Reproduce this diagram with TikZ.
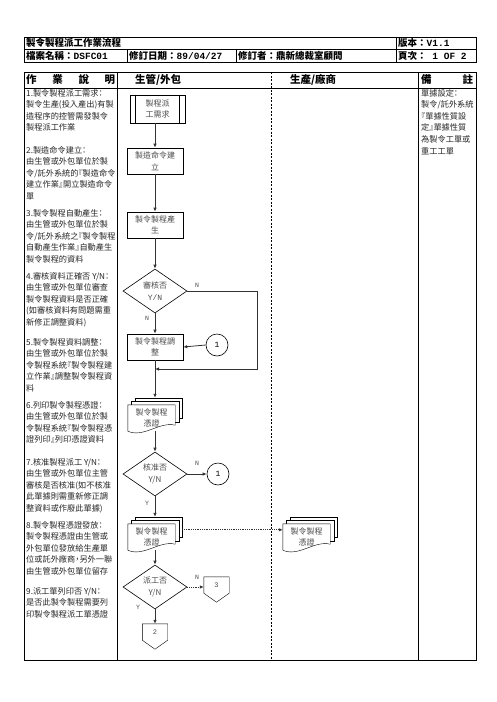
\documentclass[tikz,border=0pt]{standalone}
\usepackage{fontspec}
\setmainfont{Noto Sans CJK TC}
\setmonofont{Liberation Mono}
\newfontfamily\descfont{Noto Sans CJK TC}[RawFeature=+halt]
\usetikzlibrary{shapes.geometric,arrows.meta,calc,backgrounds}

% stacked documents behind a docnode
\newcommand\docstack[1]{%
  \coordinate (#1-top) at ($(#1.north)+(3.5,-7)$);
  \coordinate (#1-bot) at ($(#1.south)+(3.5,0)$);
  \coordinate (#1-right) at ($(#1.north east)+(7,6)$);
  \begin{scope}[on background layer]
    \foreach \s in {7,3.5}
      \draw[fill=white] ($(#1.north west)+(\s,-\s)$) rectangle ($(#1.south east)+(\s,-6-\s)$);
    \draw[fill=white] (#1.north west) -- (#1.south west)
      .. controls ($(#1.south west)+(16,7)$) and ($(#1.south east)+(-16,-10)$) .. ($(#1.south east)+(0,-6)$)
      -- (#1.north east) -- cycle;
  \end{scope}}
% off page connector
\newcommand\offpage[1]{%
  \draw (#1.north west) -- (#1.south west) -- ($(#1.south)+(0,9)$) -- (#1.south east) -- (#1.north east) -- cycle;}

\begin{document}
\begin{tikzpicture}[x=1pt,y=-1pt,
    tbl/.style={line width=0.8pt},
    hdr/.style={anchor=west,inner sep=0,font=\fontsize{9.5}{11}\selectfont\bfseries},
    colhdr/.style={anchor=west,inner sep=0,font=\fontsize{10.5}{12}\selectfont\bfseries},
    desc/.style={anchor=north west,inner sep=0,align=left,text=black!85,font=\descfont\fontsize{8.2}{11.6}\selectfont},
    flowbox/.style={draw,line width=0.6pt,minimum width=56,minimum height=26,inner sep=0,align=center,text=black!70,font=\fontsize{8}{11.5}\selectfont},
    procbox/.style={flowbox,minimum width=55,minimum height=28},
    decision/.style={diamond,draw,line width=0.6pt,aspect=1.45,minimum width=64,minimum height=44,inner sep=0,align=center,text=black!70,font=\fontsize{8}{11.5}\selectfont},
    docnode/.style={minimum width=47,minimum height=26,inner sep=0,align=center,text=black!70,font=\fontsize{8}{11.5}\selectfont},
    onpage/.style={circle,draw,line width=0.6pt,minimum size=22,inner sep=0,font=\ttfamily\fontsize{8}{8}\selectfont},
    offpage/.style={minimum width=25,minimum height=16,inner sep=0,text=black!70,font=\ttfamily\fontsize{7}{7}\selectfont},
    yn/.style={inner sep=0,text=black!70,font=\ttfamily\fontsize{6.5}{6.5}\selectfont},
    line/.style={draw=black!80,line width=0.8pt},
    flow/.style={line,-{Latex[length=4pt,width=3.5pt]}},
    dotflow/.style={flow,densely dotted}]
    \useasboundingbox (0,0) rectangle (496,702);

    % title block
    \draw[tbl] (24,37) rectangle (476,62);
    \draw[tbl] (24,49) -- (476,49);
    \draw[tbl] (396,37) -- (396,62);
    \draw[tbl] (127,49) -- (127,62);
    \draw[tbl] (236,49) -- (236,62);
    \node[hdr] (title) at (26,43) {製令製程派工作業流程};
    \node[hdr] (ver) at (398,43) {版本：{\ttfamily V1.1}};
    \node[hdr] (file) at (26,55.5) {檔案名稱：{\ttfamily DSFC01}};
    \node[hdr] (date) at (129,55.5) {修訂日期：{\ttfamily 89/04/27}};
    \node[hdr] (rev) at (238,55.5) {修訂者：鼎新總裁室顧問};
    \node[hdr] (page) at (398,55.5) {頁次：{\ttfamily\ 1 OF 2}};

    % main table
    \draw[tbl] (24,72) rectangle (476,660);
    \draw[tbl] (24,88) -- (476,88);
    \draw[tbl] (117,72) -- (117,660);
    \draw[tbl] (418,72) -- (418,660);
    \draw[line width=0.6pt,dash pattern=on 2pt off 1.5pt] (271,72) -- (271,660);
    \node[colhdr] (hd1) at (26,80) {\makebox[89pt][s]{作\hfill 業\hfill 說\hfill 明}};
    \node[colhdr] (hd2) at (135,80) {生管/外包};
    \node[colhdr] (hd3) at (290,80) {生產/廠商};
    \node[colhdr] (hd4) at (421,80) {\makebox[52pt][s]{備\hfill 註}};

    % steps
    \node[desc] (s1) at (26,89) {1.製令製程派工需求：\\製令生產(投入產出)有製\\造程序的控管需發製令\\製程派工作業};
    \node[desc] (s2) at (26,146) {2.製造命令建立：\\由生管或外包單位於製\\令/託外系統的『製造命令\\建立作業』開立製造命令\\單};
    \node[desc] (s3) at (26,209) {3.製令製程自動產生：\\由生管或外包單位於製\\令/託外系統之『製令製程\\自動產生作業』自動產生\\製令製程的資料};
    \node[desc] (s4) at (26,272) {4.審核資料正確否 Y/N：\\由生管或外包單位審查\\製令製程資料是否正確\\(如審核資料有問題需重\\新修正調整資料)};
    \node[desc] (s5) at (26,338) {5.製令製程資料調整：\\由生管或外包單位於製\\令製程系統『製令製程建\\立作業』調整製令製程資\\料};
    \node[desc] (s6) at (26,401) {6.列印製令製程憑證：\\由生管或外包單位於製\\令製程系統『製令製程憑\\證列印』列印憑證資料};
    \node[desc] (s7) at (26,458) {7.核准製程派工 Y/N：\\由生管或外包單位主管\\審核是否核准(如不核准\\此單據則需重新修正調\\整資料或作廢此單據)};
    \node[desc] (s8) at (26,521) {8.製令製程憑證發放：\\製令製程憑證由生管或\\外包單位發放給生產單\\位或託外廠商，另外一聯\\由生管或外包單位留存};
    \node[desc] (s9) at (26,587) {9.派工單列印否 Y/N：\\是否此製令製程需要列\\印製令製程派工單憑證};
    \node[desc] (note) at (421,89) {單據設定：\\製令/託外系統\\『單據性質設\\定』單據性質\\為製令工單或\\重工工單};

    % flow
    \node[procbox] (b1) at (157.5,109) {製程派\\工需求};
    \draw[line width=0.6pt] ($(b1.north west)+(6,0)$) -- ($(b1.south west)+(6,0)$);
    \draw[line width=0.6pt] ($(b1.north east)+(-6,0)$) -- ($(b1.south east)+(-6,0)$);
    \node[flowbox] (b2) at (155,161) {製造命令建\\立};
    \node[flowbox] (b3) at (155,225) {製令製程產\\生};
    \node[decision] (d1) at (155,291) {審核否\\{\ttfamily Y/N}};
    \node[flowbox] (b4) at (155,347) {製令製程調\\整};
    \node[onpage] (c1) at (217,345) {1};
    \coordinate (j1) at (155,369);
    \coordinate (r1) at (257,369);
    \node[docnode] (doc1) at (151.5,418) {製令製程\\憑證};
    \docstack{doc1}
    \node[decision] (d2) at (155,474) {核准否\\Y/N};
    \node[onpage] (c2) at (218,474) {1};
    \node[docnode] (doc2) at (151.5,537) {製令製程\\憑證};
    \docstack{doc2}
    \node[docnode] (docR) at (306.5,537) {製令製程\\憑證};
    \docstack{docR}
    \node[decision] (d3) at (155,587) {派工否\\Y/N};
    \node[offpage] (o3) at (216.5,585) {3};
    \offpage{o3}
    \node[offpage] (o2) at (155,632) {2};
    \offpage{o2}

    \draw[flow] (b1.south -| b2.north) -- (b2.north);
    \draw[flow] (b2.south) -- (b3.north);
    \draw[flow] (b3.south) -- (d1.north);
    \draw[flow] (d1.south) -- (b4.north);
    \draw[flow] (d1.east) -| (r1) -- (j1);
    \draw[flow] (c1.west) -- (b4.east);
    \draw[line] (b4.south) -- (j1);
    \draw[flow] (j1) -- (doc1-top);
    \draw[flow] (doc1-bot) -- (d2.north);
    \draw[flow] (d2.east) -- (c2.west);
    \draw[flow] (d2.south) -- (doc2-top);
    \draw[dotflow] (doc2-right) -- (docR.west |- doc2-right);
    \draw[flow] (doc2-bot) -- (d3.north);
    \draw[dotflow] (d3.east) -- (o3.west |- d3.east);
    \draw[flow] (d3.south) -- (o2.north);

    \node[yn] (n1) at (147,318) {N};
    \node[yn] (n2) at (197,285) {N};
    \node[yn] (n3) at (197,463) {N};
    \node[yn] (y1) at (147,503) {Y};
    \node[yn] (n4) at (197,577) {N};
    \node[yn] (y2) at (138,607) {Y};
\end{tikzpicture}
\end{document}
